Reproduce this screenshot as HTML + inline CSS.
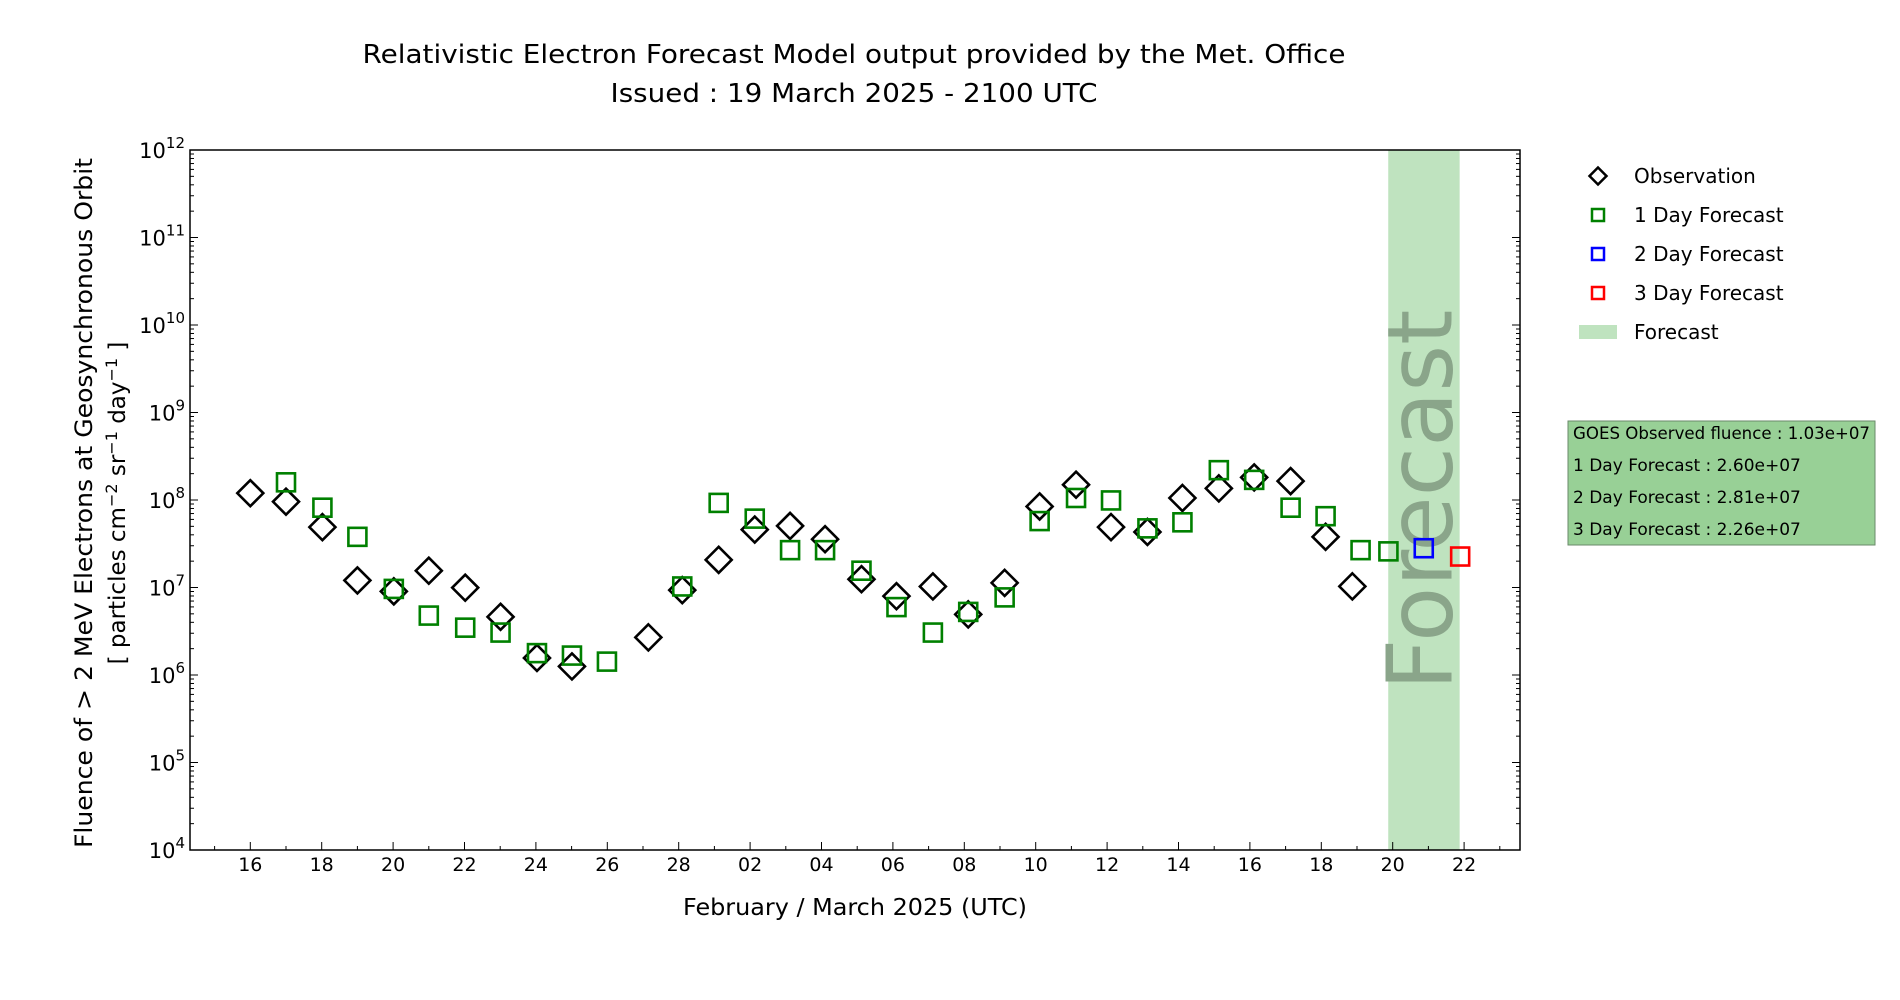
<!DOCTYPE html>
<html><head><meta charset="utf-8"><style>
html,body{margin:0;padding:0;background:#fff;}
svg{display:block;font-family:"DejaVu Sans","Liberation Sans",sans-serif;}
</style></head><body>
<svg id="chart" width="1900" height="1000" viewBox="0 0 1900 1000">
<text x="854" y="63" font-size="26" text-anchor="middle" textLength="983" lengthAdjust="spacingAndGlyphs">Relativistic Electron Forecast Model output provided by the Met. Office</text>
<text x="854" y="102" font-size="26" text-anchor="middle" textLength="487" lengthAdjust="spacingAndGlyphs">Issued : 19 March 2025 - 2100 UTC</text>
<g id="plot"></g>
<text x="855" y="915" font-size="23" text-anchor="middle" textLength="344" lengthAdjust="spacingAndGlyphs">February / March 2025 (UTC)</text>
<g>
<text transform="translate(92,503) rotate(-90)" font-size="24" text-anchor="middle" textLength="690" lengthAdjust="spacingAndGlyphs">Fluence of &gt; 2 MeV Electrons at Geosynchronous Orbit</text>
<text transform="translate(125,503) rotate(-90)" font-size="23" text-anchor="middle">[ particles cm<tspan dy="-8" font-size="16">−2</tspan><tspan dy="8"> sr</tspan><tspan dy="-8" font-size="16">−1</tspan><tspan dy="8"> day</tspan><tspan dy="-8" font-size="16">−1</tspan><tspan dy="8"> ]</tspan></text>
</g>
<g>
<g><rect x="1592" y="170" width="12" height="12" transform="rotate(45 1598 176)" fill="none" stroke="#000" stroke-width="2.5"/><text x="1634" y="183" font-size="20">Observation</text></g>
<g><rect x="1592" y="209" width="12" height="12" fill="none" stroke="green" stroke-width="2.5"/><text x="1634" y="222" font-size="20">1 Day Forecast</text></g>
<g><rect x="1592" y="248" width="12" height="12" fill="none" stroke="blue" stroke-width="2.5"/><text x="1634" y="261" font-size="20">2 Day Forecast</text></g>
<g><rect x="1592" y="287" width="12" height="12" fill="none" stroke="red" stroke-width="2.5"/><text x="1634" y="300" font-size="20">3 Day Forecast</text></g>
<g><rect x="1579" y="325" width="38" height="14" fill="#bfe3bf"/><text x="1634" y="339" font-size="20">Forecast</text></g>
</g>
<g>
<rect x="1568" y="421" width="307" height="124" fill="#98d096" stroke="#6a8a6a" stroke-width="1"/>
<text x="1573" y="439" font-size="17" textLength="297" lengthAdjust="spacingAndGlyphs">GOES Observed fluence : 1.03e+07</text>
<text x="1573" y="471" font-size="17">1 Day Forecast : 2.60e+07</text>
<text x="1573" y="503" font-size="17">2 Day Forecast : 2.81e+07</text>
<text x="1573" y="535" font-size="17">3 Day Forecast : 2.26e+07</text>
</g>
</svg>
<script>
// days after 16 Feb 2025; values as log10(fluence)
const obsDays = [0,1,2.02,3,4.02,5,6.02,7.01,8.03,9.01,11.15,12.1,13.12,14.13,15.12,16.1,17.12,18.1,19.12,20.11,21.13,22.11,23.13,24.11,25.13,26.11,27.13,28.12,29.14,30.12,30.87];
const obsLog = [8.078,7.981,7.69,7.081,6.956,7.192,6.998,6.665,6.195,6.098,6.43,6.97,7.316,7.662,7.704,7.552,7.095,6.901,7.012,6.693,7.053,7.926,8.175,7.69,7.635,8.023,8.133,8.258,8.216,7.579,7.013];
const f1Days = [1,2.02,3,4.02,5,6.02,7.01,8.03,9.01,9.99,12.1,13.12,14.13,15.12,16.1,17.12,18.1,19.12,20.11,21.13,22.11,23.13,24.11,25.13,26.11,27.13,28.12,29.14,30.12,31.1,31.88];
const f1Log = [8.202,7.912,7.579,6.984,6.679,6.541,6.485,6.25,6.222,6.153,7.012,7.967,7.787,7.427,7.427,7.192,6.776,6.485,6.721,6.887,7.759,8.023,7.995,7.676,7.745,8.341,8.23,7.912,7.815,7.427,7.413];
const f2Days = [32.87];
const f2Log = [7.449];
const f3Days = [33.89];
const f3Log = [7.354];
const bandDays = [31.875, 33.875];
const xTickDays = [0,2,4,6,8,10,12,14,16,18,20,22,24,26,28,30,32,34];
const xTickLabels = ["16","18","20","22","24","26","28","02","04","06","08","10","12","14","16","18","20","22"];
const yTickExp = [4,5,6,7,8,9,10,11,12];

const NS="http://www.w3.org/2000/svg";
const L=190,R=1520,T=150,B=850;
const x0=250.3, dx=35.7;
function X(d){return x0+d*dx;}
function Y(lg){return B-(lg-4)*(B-T)/8;}
const g=document.getElementById('plot');
function mk(tag,attrs,parent){const e=document.createElementNS(NS,tag);for(const k in attrs)e.setAttribute(k,attrs[k]);(parent||g).appendChild(e);return e;}

const band=mk('rect',{x:X(bandDays[0]),y:T,width:X(bandDays[1])-X(bandDays[0]),height:B-T,fill:'#bfe3bf'});


const ft=mk('text',{transform:`translate(${X(bandDays[1])-8},${(T+B)/2}) rotate(-90)`,'font-size':'90','text-anchor':'middle',fill:'#8aa58a'});
ft.textContent='Forecast';



const fr=mk('rect',{x:L,y:T,width:R-L,height:B-T,fill:'none',stroke:'#000','stroke-width':1.5});



yTickExp.forEach(e=>{
  const y=Y(e);
  mk('line',{x1:L,x2:L+8,y1:y,y2:y,stroke:'#000','stroke-width':1});
  mk('line',{x1:R,x2:R-8,y1:y,y2:y,stroke:'#000','stroke-width':1});
  const t=mk('text',{x:L-5,y:y+8,'font-size':'21','text-anchor':'end'});
  t.innerHTML='10<tspan dy="-10" font-size="15">'+e+'</tspan>';
  
  
  if(e<12){for(let m=2;m<10;m++){const yy=Y(e+Math.log10(m));
    mk('line',{x1:L,x2:L+4,y1:yy,y2:yy,stroke:'#000','stroke-width':1});
    mk('line',{x1:R,x2:R-4,y1:yy,y2:yy,stroke:'#000','stroke-width':1});}}
});
for(let d=-1;d<=35;d++){const x=X(d);if(x<L||x>R)continue;
  mk('line',{x1:x,x2:x,y1:B,y2:B-(d%2===0?8:4),stroke:'#000','stroke-width':1});}
xTickDays.forEach((d,i)=>{
  const t=mk('text',{x:X(d),y:871,'font-size':'19','text-anchor':'middle'});
  t.textContent=xTickLabels[i];
  
  
});

function squares(days,logs,color,name){
  days.forEach((d,i)=>{const x=X(d),y=Y(logs[i]);
    const r=mk('rect',{x:x-9,y:y-9,width:18,height:18,fill:'none',stroke:color,'stroke-width':2.6});
    
    
  });
}
obsDays.forEach((d,i)=>{const x=X(d),y=Y(obsLog[i]);
  const p=mk('polygon',{points:`${x},${y-13} ${x+13},${y} ${x},${y+13} ${x-13},${y}`,fill:'none',stroke:'#000','stroke-width':2.6});
  
  
});
squares(f1Days,f1Log,'green','1-day-forecast-point');
squares(f2Days,f2Log,'blue','2-day-forecast-point');
squares(f3Days,f3Log,'red','3-day-forecast-point');
</script>
</body></html>
